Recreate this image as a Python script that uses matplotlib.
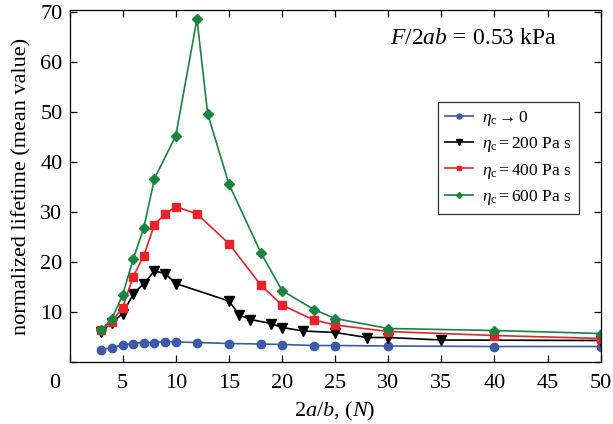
import matplotlib
matplotlib.use("Agg")
import matplotlib.pyplot as plt

plt.rcParams['font.family'] = ['Liberation Serif', 'DejaVu Serif']
plt.rcParams['mathtext.fontset'] = 'custom'
plt.rcParams['mathtext.rm'] = 'Liberation Serif'
plt.rcParams['mathtext.it'] = 'Liberation Serif:italic'
plt.rcParams['mathtext.bf'] = 'Liberation Serif:bold'

# data
x_blue = [3, 4, 5, 6, 7, 8, 9, 10, 12, 15, 18, 20, 23, 25, 30, 40, 50]
y_blue = [2.5, 2.9, 3.4, 3.7, 3.9, 3.9, 4.1, 4.0, 3.9, 3.7, 3.6, 3.5, 3.3, 3.3, 3.2, 3.1, 3.1]

x_black = [3, 4, 5, 6, 7, 8, 9, 10, 15, 16, 17, 19, 20, 22, 25, 28, 30, 35, 50]
y_black = [6.1, 7.9, 9.7, 13.6, 15.7, 18.2, 17.7, 15.7, 12.2, 9.4, 8.5, 7.7, 6.9, 6.2, 5.9, 4.9, 4.9, 4.4, 4.3]

x_red = [3, 4, 5, 6, 7, 8, 9, 10, 12, 15, 18, 20, 23, 25, 30, 40, 50]
y_red = [6.4, 8.1, 10.9, 17.1, 21.3, 27.5, 29.6, 31.1, 29.6, 23.7, 15.4, 11.4, 8.4, 7.4, 6.1, 5.3, 4.7]

x_green = [3, 4, 5, 6, 7, 8, 10, 12, 13, 15, 18, 20, 23, 25, 30, 40, 50]
y_green = [6.4, 8.7, 13.4, 20.6, 26.9, 36.7, 45.2, 68.6, 49.7, 35.6, 21.9, 14.3, 10.5, 8.7, 6.7, 6.3, 5.7]

labels = [r'$\eta_{\rm c} \rightarrow 0$',
          r'$\eta_{\rm c} = 200$ Pa s',
          r'$\eta_{\rm c} = 400$ Pa s',
          r'$\eta_{\rm c} = 600$ Pa s']
xticks = [0, 5, 10, 15, 20, 25, 30, 35, 40, 45, 50]
yticks = [0, 10, 20, 30, 40, 50, 60, 70]

fig = plt.figure(figsize=(6.13, 4.24), dpi=100)
ax = fig.add_axes([69.5/613, 1-362/424, (600.7-69.5)/613, (362-10)/424])

ax.plot(x_blue, y_blue, '-o', color='#3d5aa8', ms=6, lw=1.2, label=labels[0])
ax.plot(x_black, y_black, '-v', color='black', ms=6.5, lw=1.2, label=labels[1])
ax.plot(x_red, y_red, '-s', color='#e8222b', ms=6, lw=1.2, label=labels[2])
ax.plot(x_green, y_green, '-D', color='#17843f', ms=5, lw=1.2, label=labels[3])

ax.set_xlim(0, 50)
ax.set_ylim(0, 70.4)
ax.set_xticks(xticks)
ax.set_xticklabels([''] + [str(t) for t in xticks[1:]])
ax.set_yticks(yticks)
ax.set_yticklabels([''] + [str(t) for t in yticks[1:]])
ax.tick_params(direction='in', top=True, right=True, length=5, width=0.9,
               labelsize=16)
ax.tick_params(axis='x', pad=9)
ax.tick_params(axis='y', pad=5)
for s in ax.spines.values():
    s.set_linewidth(0.9)

fig.text(55/613, 1-383/424, '0', ha='center', va='center', fontsize=16)

ax.set_xlabel(r'$2a/b$, $(N)$', fontsize=16, labelpad=5)
ax.set_ylabel('normalized lifetime (mean value)', fontsize=16, labelpad=6)

ax.text(0.76, 0.92, r'$F/2ab\,=\,0.53$ kPa', transform=ax.transAxes,
        ha='center', va='center', fontsize=17)

leg = ax.legend(loc='upper left', bbox_to_anchor=((438-69.5)/531.2, 1-(102-10)/352),
                borderaxespad=0,
                fontsize=12.5, frameon=True, fancybox=False, edgecolor='black',
                handlelength=1.6, markerscale=0.6, borderpad=0.4, labelspacing=0.42,
                handletextpad=0.55)
leg.get_frame().set_linewidth(0.9)

fig.savefig('out.png', dpi=100)
